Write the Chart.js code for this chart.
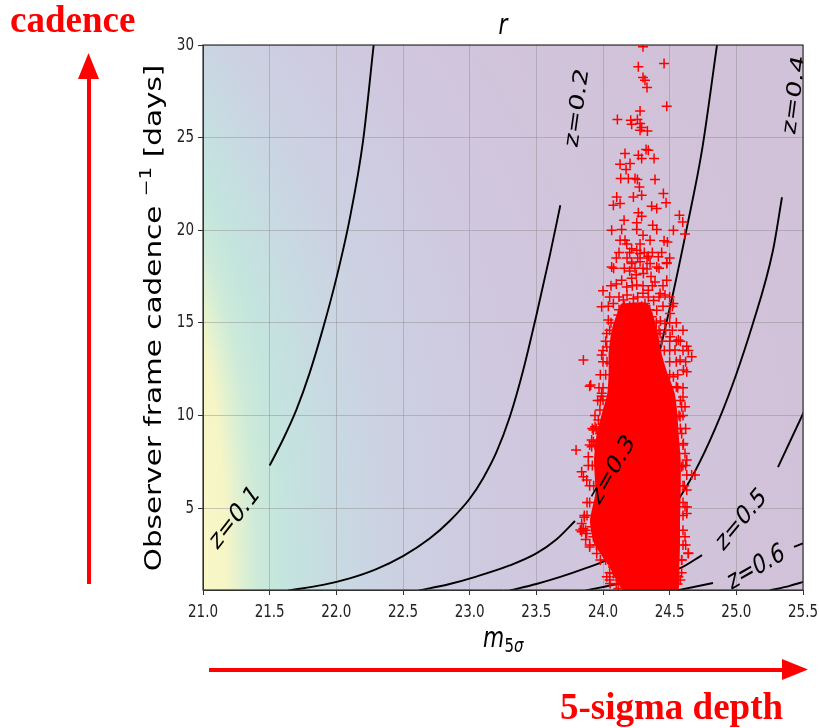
<!DOCTYPE html>
<html>
<head>
<meta charset="utf-8">
<script src="https://cdn.jsdelivr.net/npm/chart.js@4.4.0/dist/chart.umd.min.js"></script>
<style>
html, body { margin: 0; padding: 0; background: #fff; }
#wrap { width: 819px; height: 728px; }
</style>
</head>
<body>
<div id="wrap"><canvas id="c" width="819" height="728"></canvas></div>
<script>
// axes
const xTicks = [21.0, 21.5, 22.0, 22.5, 23.0, 23.5, 24.0, 24.5, 25.0, 25.5];
const yTicks = [5, 10, 15, 20, 25, 30];
const xRange = [21.0, 25.5];
const yRange = [0.575, 30];

// contour lines (m5, cadence), split where matplotlib put the inline labels
const z01 = [[21.5, 7.3], [21.6, 8.7], [21.7, 10.3], [21.8, 12.3], [21.9, 14.7], [22.0, 17.4], [22.1, 20.6], [22.2, 24.8], [22.28, 30.0]];
const z02 = [[21.64, 0.55], [21.9, 0.85], [22.1, 1.2], [22.3, 1.7], [22.5, 2.4], [22.7, 3.35], [22.85, 4.3], [23.0, 5.5],
  [23.1, 6.6], [23.2, 8.0], [23.3, 9.9], [23.4, 12.4], [23.5, 15.4], [23.6, 18.6], [23.68, 21.35]];
const z03a = [[22.62, 0.55], [22.85, 0.9], [23.05, 1.3], [23.3, 1.9], [23.5, 2.55], [23.65, 3.3], [23.79, 4.3]];
const z03b = [[24.28, 10.0], [24.375, 12.07], [24.5025, 15.85], [24.63, 20.17], [24.7425, 24.32], [24.855, 30.0]];
const z04 = [[23.30, 0.55], [23.5, 0.9], [23.68, 1.28], [23.85, 1.7], [24.03, 2.2], [24.3, 3.5], [24.5775, 5.6], [24.8775, 9.91], [25.125, 14.98], [25.275, 18.92], [25.3425, 21.78]];
const z05a = [[23.87, 0.55], [24.13, 0.94], [24.5775, 1.75], [24.7425, 2.46]];
const z05b = [[25.3125, 7.21], [25.52, 10.4]];
const z06a = [[24.555, 0.55], [24.825, 0.95]];
const z06b = [[25.4325, 2.9], [25.52, 3.15]];
const z07 = [[25.25, 0.55], [25.4, 0.8], [25.52, 1.05]];

const contourLabels = ['z=0.1', 'z=0.2', 'z=0.3', 'z=0.4', 'z=0.5', 'z=0.6'];
const contourLabelX = [21.24, 23.81, 24.075, 25.44, 25.04, 25.15];
const contourLabelY = [4.46, 26.6, 7.05, 27.3, 4.35, 1.76];

// outline of the saturated part of the observed cloud
const coreOutline = [
  [24.14, 16.0], [24.08, 14.8], [24.05, 13.4], [24.05, 12.4], [24.04, 11.2], [24.0, 10.1], [23.96, 9.0],
  [23.94, 7.6], [23.95, 5.8], [23.91, 4.35], [23.94, 3.1], [24.05, 1.9], [24.17, 0.5],
  [24.55, 0.5], [24.565, 1.9], [24.57, 3.1], [24.57, 4.35], [24.575, 5.8], [24.575, 7.6], [24.56, 9.0],
  [24.55, 10.1], [24.53, 11.2], [24.47, 12.4], [24.43, 13.4], [24.40, 14.6], [24.33, 16.0], [24.14, 16.0]
];

// observed (m5, cadence) pairs
const obsPoints = [
  [24.30, 29.9], [24.265, 28.82], [24.458, 29.0], [24.30, 28.24], [24.315, 28.1], [24.33, 27.7], [24.478, 26.69],
  [24.278, 26.44], [24.108, 25.98], [24.208, 25.94], [24.258, 25.98], [24.278, 25.76], [24.215, 25.72], [24.29, 25.54],
  [24.333, 25.36], [24.278, 25.4], [24.323, 24.36], [24.34, 24.32], [24.165, 24.14], [24.265, 24.05], [24.29, 23.87],
  [24.383, 23.87], [24.128, 23.56], [24.203, 23.6], [24.173, 23.28], [24.133, 22.79], [24.19, 22.79], [24.24, 22.79],
  [24.258, 22.74], [24.39, 22.74], [24.273, 22.34], [24.453, 21.98], [24.29, 21.89], [24.228, 21.8], [24.103, 21.8],
  [24.128, 21.44], [24.078, 21.35], [24.365, 21.3], [24.403, 21.17], [24.473, 21.48], [24.573, 20.81], [24.598, 20.45],
  [24.265, 20.94], [24.29, 20.76], [24.158, 20.54], [24.253, 20.4], [24.065, 20.0], [24.14, 20.04], [24.253, 20.04],
  [24.373, 20.27], [24.403, 20.04], [24.528, 20.0], [24.615, 19.79], [24.458, 19.43], [24.483, 19.37], [24.353, 19.46],
  [24.128, 19.46], [24.178, 19.25], [24.215, 19.0], [24.278, 19.25], [24.3, 19.73], [24.278, 18.74], [24.34, 18.6],
  [24.415, 18.57], [24.478, 18.24], [24.065, 18.02], [24.215, 18.29], [24.253, 18.92], [24.165, 19.46],
  [24.215, 18.2], [24.278, 18.3], [24.353, 18.2], [24.403, 18.02], [24.478, 18.2], [24.14, 17.3], [24.215, 17.4],
  [24.303, 17.66], [24.39, 17.21], [24.478, 17.3], [24.0, 16.73], [24.178, 16.94], [24.253, 17.04], [24.34, 16.76],
  [24.428, 16.58], [24.465, 16.5], [23.99, 15.87], [24.078, 16.05], [24.153, 16.23], [24.228, 16.3], [24.315, 16.05],
  [24.403, 15.68], [24.503, 15.5], [24.528, 16.05], [24.04, 15.15], [24.115, 15.42], [24.19, 15.5], [24.278, 15.24],
  [24.365, 15.33], [24.465, 14.97], [24.028, 14.43], [24.128, 14.61], [24.428, 14.43], [24.503, 14.25], [24.565, 14.07],
  [24.628, 13.74], [24.665, 13.17], [24.54, 13.53], [24.578, 12.99], [23.853, 12.99], [23.99, 13.26], [23.908, 11.64],
  [24.028, 13.7], [24.053, 12.8], [24.603, 12.45], [24.628, 12.36], [24.528, 12.09], [23.99, 11.2], [24.0, 10.83],
  [24.59, 10.47], [24.615, 10.47], [24.578, 9.93], [23.965, 9.75], [23.928, 9.21], [23.978, 9.03], [24.59, 9.03],
  [23.928, 8.58], [23.915, 8.31], [24.603, 8.49], [23.798, 8.13], [24.615, 7.95], [23.89, 7.77], [24.628, 7.59],
  [23.84, 6.96], [23.853, 6.69], [23.878, 6.51], [24.628, 6.78], [24.665, 6.78], [24.69, 6.78], [24.59, 7.23],
  [24.628, 5.97], [24.615, 5.07], [24.628, 4.71], [23.84, 4.17], [23.853, 3.9], [23.84, 3.72], [23.878, 3.63],
  [23.915, 3.99], [23.928, 3.45], [24.615, 3.45], [24.64, 2.55], [24.59, 2.19], [23.953, 2.55], [24.028, 1.29],
  [24.078, 1.47], [24.053, 0.93], [24.128, 1.11], [24.115, 0.66], [24.178, 0.75], [24.528, 1.11], [24.565, 1.29],
  [23.83, 3.81], [24.075, 1.82], [24.105, 1.28], [24.05, 1.11], [24.18, 0.74], [24.63, 5.05], [24.64, 2.57],
  [24.58, 1.11], [23.9, 11.58], [23.99, 11.04], [23.977, 10.29], [23.94, 9.39], [23.915, 8.67], [24.55, 11.55],
  [24.6, 11.0], [24.2, 17.8], [24.25, 17.6], [24.33, 17.9], [24.18, 16.5], [24.3, 16.6], [24.38, 16.2], [24.24, 15.8],
  [24.12, 15.7], [24.35, 15.7], [24.43, 15.1], [24.1, 17.1], [24.36, 17.5], [23.87, 3.3], [23.9, 2.9], [23.86, 4.5],
  // dense band, read row by row
  [24.12, 18.8], [24.2, 18.8], [24.31, 18.8], [24.37, 18.8], [24.44, 18.8],
  [24.1, 18.5], [24.18, 18.5], [24.26, 18.5], [24.33, 18.5], [24.5, 18.5],
  [24.08, 17.95], [24.16, 17.95], [24.24, 17.95], [24.3, 17.95], [24.42, 17.95],
  [24.06, 17.0], [24.22, 17.0], [24.3, 17.0], [24.37, 17.0], [24.45, 17.0],
  [24.05, 16.4], [24.12, 16.4], [24.26, 16.4], [24.34, 16.4], [24.42, 16.4], [24.5, 16.4],
  [24.04, 15.9], [24.16, 15.9], [24.2, 15.9], [24.29, 15.9], [24.45, 15.9], [24.52, 15.9],
  [24.06, 15.0], [24.1, 15.0], [24.4, 15.0], [24.5, 15.0], [24.55, 15.0],
  [24.05, 14.6], [24.42, 14.6], [24.47, 14.6], [24.52, 14.6], [24.6, 14.6],
  [24.02, 14.0], [24.44, 14.0], [24.5, 14.0], [24.55, 14.0], [24.58, 14.0],
  [24.0, 13.5], [24.46, 13.5], [24.5, 13.5], [24.6, 13.5], [24.64, 13.5],
  [24.0, 12.9], [24.03, 12.9], [24.5, 12.9], [24.55, 12.9], [24.62, 12.9],
  [23.98, 12.2], [24.02, 12.2], [24.5, 12.2], [24.56, 12.2],
  [23.97, 11.5], [24.0, 11.5], [24.56, 11.5], [24.6, 11.5],
  [23.96, 10.8], [23.98, 10.8], [24.58, 10.8],
  [23.94, 10.0], [24.57, 10.0], [24.6, 10.0],
  [23.92, 9.3], [23.95, 9.3], [24.58, 9.3], [24.62, 9.3],
  [23.9, 8.4], [23.94, 8.4], [24.6, 8.4],
  [23.89, 7.3], [23.92, 7.3], [24.6, 7.3], [24.62, 7.3],
  [23.9, 6.2], [23.93, 6.2], [24.6, 6.2], [24.61, 6.2],
  [23.88, 5.3], [23.9, 5.3], [24.6, 5.3],
  [23.86, 4.6], [23.88, 4.6], [24.6, 4.6],
  [23.87, 3.8], [24.6, 3.8],
  [23.9, 3.0], [23.95, 3.0], [24.6, 3.0], [24.62, 3.0],
  [23.98, 2.2], [24.02, 2.2], [24.59, 2.2],
  [24.05, 1.5], [24.1, 1.5], [24.59, 1.5],
  [24.1, 0.9], [24.15, 0.9], [24.2, 0.9], [24.56, 0.9]
];

const toXY = arr => arr.map(p => ({ x: p[0], y: p[1] }));

// the matplotlib figure was squeezed horizontally, so text is too
function squeezed(ctx, text, x, y, angleDeg, font, align, baseline) {
  ctx.save();
  ctx.translate(x, y);
  ctx.scale(0.75, 1);
  ctx.rotate(-angleDeg * Math.PI / 180);
  ctx.font = font;
  ctx.textAlign = align || 'center';
  ctx.textBaseline = baseline || 'alphabetic';
  ctx.fillText(text, 0, 0);
  ctx.restore();
}

const bgStops = [
  [0.000, 'rgb(250,247,200)'], [0.04, 'rgb(245,245,198)'], [0.065, 'rgb(222,240,210)'],
  [0.09, 'rgb(205,234,217)'], [0.13, 'rgb(196,229,222)'], [0.17, 'rgb(197,224,224)'],
  [0.23, 'rgb(200,217,226)'], [0.31, 'rgb(204,210,226)'], [0.41, 'rgb(206,204,225)'],
  [0.56, 'rgb(208,199,222)'], [0.75, 'rgb(209,196,219)'], [1.0, 'rgb(210,194,217)']
];

const backgroundPlugin = {
  id: 'bgField',
  beforeDraw(chart) {
    const { ctx, chartArea: a } = chart;
    const ys = chart.scales.y;
    ctx.save();
    for (let py = a.top; py < a.bottom; py += 2) {
      const v = ys.getValueForPixel(py + 1);
      const shift = 160 * Math.pow(Math.max(v, 0) / 30, 2.5);
      const g = ctx.createLinearGradient(a.left - shift, 0, a.right - shift, 0);
      bgStops.forEach(s => g.addColorStop(s[0], s[1]));
      ctx.fillStyle = g;
      ctx.fillRect(a.left, py, a.right - a.left, Math.min(2, a.bottom - py));
    }
    ctx.restore();
  }
};

const labelAngles = [43.8, 79.4, 52.4, 80, 41.8, 23.4];

const contourLabelPlugin = {
  id: 'clabels',
  afterDatasetsDraw(chart) {
    const { ctx, chartArea: a } = chart;
    const xs = chart.scales.x, ys = chart.scales.y;
    ctx.save();
    ctx.beginPath();
    ctx.rect(a.left, a.top, a.right - a.left, a.bottom - a.top);
    ctx.clip();
    ctx.fillStyle = '#000';
    contourLabels.forEach((t, i) => {
      squeezed(ctx, t, xs.getPixelForValue(contourLabelX[i]), ys.getPixelForValue(contourLabelY[i]),
        labelAngles[i], '27px "DejaVu Sans"', 'center', 'middle');
    });
    ctx.restore();
  }
};

const decorPlugin = {
  id: 'decor',
  afterDraw(chart) {
    const { ctx, chartArea: a } = chart;
    const xs = chart.scales.x, ys = chart.scales.y;

    // frame
    ctx.save();
    ctx.strokeStyle = '#333';
    ctx.lineWidth = 1.2;
    ctx.strokeRect(a.left, a.top, a.right - a.left, a.bottom - a.top);

    // tick labels
    ctx.fillStyle = '#222';
    xTicks.forEach(v => squeezed(ctx, v.toFixed(1), xs.getPixelForValue(v), a.bottom + 27, 0, '18px "DejaVu Sans"', 'center'));
    yTicks.forEach(v => squeezed(ctx, String(v), a.left - 9, ys.getPixelForValue(v), 0, '18px "DejaVu Sans"', 'right', 'middle'));

    // title and axis titles
    ctx.fillStyle = '#000';
    squeezed(ctx, 'r', (a.left + a.right) / 2, 34, 0, 'italic 29px "DejaVu Sans"', 'center');
    squeezed(ctx, 'm', 483, 647, 0, 'italic 29px "DejaVu Sans"', 'left');
    squeezed(ctx, '5', 504.5, 652, 0, '20px "DejaVu Sans"', 'left');
    squeezed(ctx, 'σ', 514, 652, 0, 'italic 20px "DejaVu Sans"', 'left');

    ctx.save();
    ctx.translate(161, 318);
    ctx.scale(0.75, 1);
    ctx.rotate(-Math.PI / 2);
    const big = '29.5px "DejaVu Sans"', small = '20px "DejaVu Sans"';
    const parts = [['Observer frame cadence ', big, 0], ['−1', small, -13], [' [days]', big, 0]];
    let total = 0;
    parts.forEach(p => { ctx.font = p[1]; total += ctx.measureText(p[0]).width; });
    let cx = -total / 2;
    ctx.textAlign = 'left';
    ctx.textBaseline = 'alphabetic';
    parts.forEach(p => { ctx.font = p[1]; ctx.fillText(p[0], cx, p[2]); cx += ctx.measureText(p[0]).width; });
    ctx.restore();

    // red annotations
    ctx.fillStyle = '#ff0000';
    ctx.strokeStyle = '#ff0000';
    ctx.lineWidth = 4;
    ctx.beginPath();
    ctx.moveTo(89, 584); ctx.lineTo(89, 76);
    ctx.moveTo(209, 670); ctx.lineTo(784, 670);
    ctx.stroke();
    ctx.beginPath();
    ctx.moveTo(88.5, 53); ctx.lineTo(78, 79); ctx.lineTo(99, 79); ctx.closePath();
    ctx.fill();
    ctx.beginPath();
    ctx.moveTo(808, 669.5); ctx.lineTo(782, 659); ctx.lineTo(782, 680); ctx.closePath();
    ctx.fill();
    ctx.font = 'bold 37px "Liberation Serif"';
    ctx.textAlign = 'left';
    ctx.textBaseline = 'alphabetic';
    ctx.fillText('cadence', 10, 32);
    ctx.fillText('5-sigma depth', 560, 719);
    ctx.restore();
  }
};

const contourStyle = {
  type: 'line', showLine: true, fill: false, borderColor: '#000', borderWidth: 1.9,
  pointRadius: 0, cubicInterpolationMode: 'monotone', order: 2
};
const contourSets = [z01, z02, z03a, z03b, z04, z05a, z05b, z06a, z06b, z07]
  .map(seg => Object.assign({ data: toXY(seg) }, contourStyle));

const gridOpts = { color: 'rgba(140,140,140,0.45)', lineWidth: 1, tickColor: '#333', tickLength: 5 };

new Chart(document.getElementById('c'), {
  type: 'scatter',
  data: {
    datasets: [
      {
        data: toXY(obsPoints), pointStyle: 'cross', pointRadius: 5, pointBorderWidth: 1.5,
        pointBorderColor: '#ff0000', pointBackgroundColor: '#ff0000', order: 0
      },
      {
        type: 'line', data: toXY(coreOutline), showLine: true, fill: 'shape', tension: 0.2,
        borderColor: '#ff0000', backgroundColor: '#ff0000', borderWidth: 2, pointRadius: 0, order: 1
      },
      ...contourSets
    ]
  },
  options: {
    responsive: false,
    animation: false,
    layout: { padding: { top: 45, right: 16, left: 0, bottom: 0 } },
    plugins: { legend: { display: false }, tooltip: { enabled: false } },
    scales: {
      x: {
        type: 'linear', min: xRange[0], max: xRange[1],
        afterBuildTicks: s => { s.ticks = xTicks.map(v => ({ value: v })); },
        afterFit: s => { s.height = 138; },
        ticks: { display: false },
        grid: gridOpts,
        border: { display: true, color: '#333' }
      },
      y: {
        type: 'linear', min: yRange[0], max: yRange[1],
        afterBuildTicks: s => { s.ticks = yTicks.map(v => ({ value: v })); },
        afterFit: s => { s.width = 203; },
        ticks: { display: false },
        grid: gridOpts,
        border: { display: true, color: '#333' }
      }
    }
  },
  plugins: [backgroundPlugin, contourLabelPlugin, decorPlugin]
});
</script>
</body>
</html>
